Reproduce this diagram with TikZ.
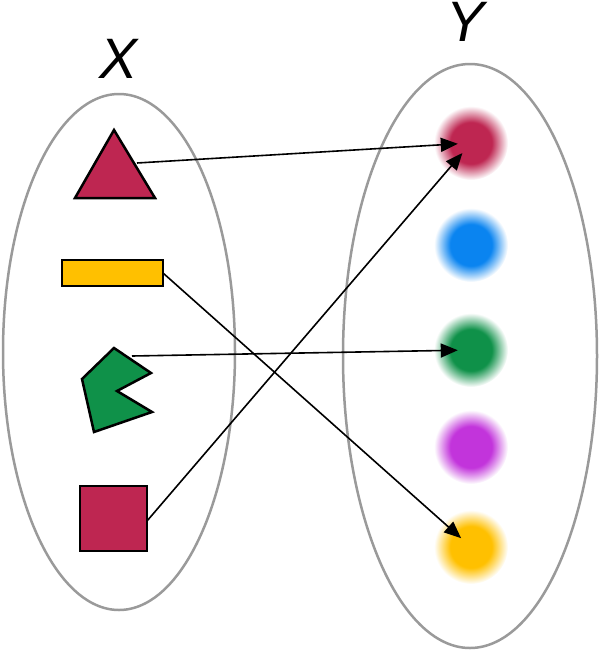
\documentclass[tikz,border=0pt]{standalone}
\usepackage{fontspec}
\newfontfamily\setfont{Liberation Sans}
\usetikzlibrary{arrows.meta}

\definecolor{crimson}{HTML}{BE2651}
\definecolor{amber}{HTML}{FFC000}
\definecolor{leaf}{HTML}{0F9149}
\definecolor{sky}{HTML}{0A84F0}
\definecolor{violet}{HTML}{C234DB}
\definecolor{rim}{HTML}{9A9A9A}
\colorlet{glowc}{crimson}

\pgfdeclareradialshading[glowc]{glow}{\pgfpoint{0bp}{0bp}}{%
  color(0bp)=(glowc); color(14bp)=(glowc); color(25bp)=(white); color(50bp)=(white)}

\begin{document}
\begin{tikzpicture}[x=1pt, y=-1pt,
    set/.style={draw=rim, line width=2.5pt},
    piece/.style={draw=black, line width=2.5pt, line join=miter},
    map/.style={draw=black, line width=1.6pt, -{Triangle[length=17pt,width=14pt]}},
    target/.style={circle, minimum size=26pt, inner sep=0pt},
    setlabel/.style={anchor=base, font=\setfont\itshape\fontsize{57}{60}\selectfont}
]
    \useasboundingbox (0,0) rectangle (600,651);

    % the two sets
    \draw[set] (119,352) ellipse (116 and 258);
    \draw[set] (470,356) ellipse (127 and 292);
    \node[setlabel] (xlab) at (119,78) {X};
    \node[setlabel] (ylab) at (466,41) {Y};

    % elements of X
    \filldraw[piece, fill=crimson] (114,130) -- (155,198) -- (75,198) -- cycle;
    \filldraw[piece, fill=amber] (62,260) rectangle (163,286);
    \filldraw[piece, fill=leaf] (114,348) -- (151,373) -- (117,391) -- (152,412)
        -- (94,432) -- (82,379) -- cycle;
    \filldraw[piece, fill=crimson] (80,486) rectangle (147,551);

    \coordinate (tri) at (137,163);
    \coordinate (bar) at (163,273);
    \coordinate (pac) at (132,356);
    \coordinate (box) at (147,521);

    % elements of Y
    \foreach \c/\y/\n in {crimson/143/y1, sky/245/y2, leaf/350/y3, violet/447/y4, amber/547/y5} {
        \colorlet{glowc}{\c}
        \shade[shading=glow] (471,\y) circle (37);
        \node[target] (\n) at (471,\y) {};
    }

    % the mapping
    \draw[map] (tri) -- (y1);
    \draw[map] (box) -- (y1);
    \draw[map] (pac) -- (y3);
    \draw[map] (bar) -- (y5);
\end{tikzpicture}
\end{document}
